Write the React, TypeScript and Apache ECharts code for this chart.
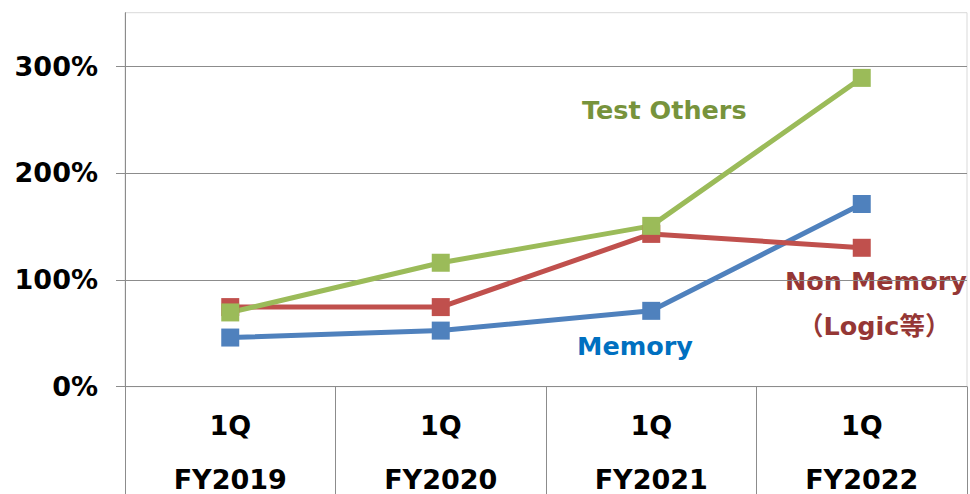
import React, { useEffect, useRef } from "react";
import * as echarts from "echarts";

const quarters = ["1Q", "1Q", "1Q", "1Q"];
const fiscalYears = ["FY2019", "FY2020", "FY2021", "FY2022"];
const memory = [46, 52.5, 71, 171];
const nonMemory = [74.5, 74.5, 143, 130];
const testOthers = [69.5, 116, 150.5, 289];
const yTicks = { min: 0, max: 350, interval: 100 };

const FONT = "'DejaVu Sans', 'Noto Sans CJK JP', sans-serif";

export default function App() {
  const ref = useRef<HTMLDivElement>(null);
  useEffect(() => {
    if (!ref.current) return;
    const chart = echarts.init(ref.current, null, { renderer: "svg" });
    const categories = quarters.map((q, i) => `${q}\n${fiscalYears[i]}`);
    const mkSeries = (name: string, data: number[], color: string) => ({
      name,
      type: "line",
      data,
      symbol: "rect",
      symbolSize: 18,
      lineStyle: { color, width: 5 },
      itemStyle: { color },
      emphasis: { disabled: true },
    });
    chart.setOption({
      animation: false,
      grid: {
        left: 125,
        right: 3,
        top: 12.7,
        bottom: 107.3,
        outerBoundsMode: "none",
        containLabel: false,
        show: true,
        borderColor: "#D9D9D9",
        borderWidth: 1,
      },
      xAxis: {
        type: "category",
        data: categories,
        boundaryGap: true,
        axisLine: { lineStyle: { color: "#8C8C8C", width: 1 } },
        axisTick: {
          show: true,
          length: 110,
          alignWithLabel: false,
          lineStyle: { color: "#8C8C8C", width: 1 },
        },
        axisLabel: {
          color: "#000",
          fontFamily: FONT,
          fontWeight: "bold",
          fontSize: 27,
          lineHeight: 54,
          margin: 12,
        },
      },
      yAxis: {
        type: "value",
        min: yTicks.min,
        max: yTicks.max,
        interval: yTicks.interval,
        axisLine: { show: true, lineStyle: { color: "#8C8C8C", width: 1 } },
        axisTick: { show: true, length: 9, lineStyle: { color: "#8C8C8C" } },
        splitLine: {
          show: true,
          showMaxLine: false,
          lineStyle: { color: "#8C8C8C", width: 1 },
        },
        axisLabel: {
          color: "#000",
          fontFamily: FONT,
          fontWeight: "bold",
          fontSize: 27,
          margin: 27,
          showMaxLabel: false,
          formatter: (v: number) => (v % 100 === 0 ? `${v}%` : ""),
        },
      },
      series: [
        mkSeries("Memory", memory, "#4F81BD"),
        mkSeries("Non Memory", nonMemory, "#C0504D"),
        mkSeries("Test Others", testOthers, "#9BBB59"),
      ],
      graphic: [
        {
          type: "text",
          left: 582,
          top: 97,
          style: {
            text: "Test Others",
            fill: "#77933C",
            font: `bold 25.5px ${FONT}`,
          },
        },
        {
          type: "text",
          left: 577,
          top: 333,
          style: {
            text: "Memory",
            fill: "#0070C0",
            font: `bold 25.5px ${FONT}`,
          },
        },
        {
          type: "text",
          left: 785,
          top: 268,
          style: {
            text: "Non Memory",
            fill: "#953735",
            font: `bold 25.5px ${FONT}`,
          },
        },
        {
          type: "text",
          left: 798,
          top: 313,
          style: {
            text: "（Logic等）",
            fill: "#953735",
            font: `bold 25.5px ${FONT}`,
          },
        },
      ],
    });
    return () => chart.dispose();
  }, []);
  return (
    <div
      ref={ref}
      style={{ position: "fixed", left: 0, top: 0, width: 970, height: 494, background: "#fff" }}
    />
  );
}
